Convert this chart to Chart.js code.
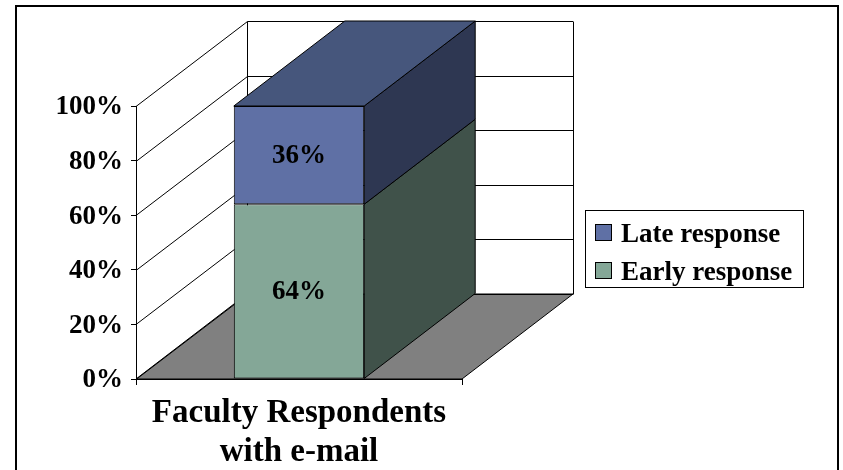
<!DOCTYPE html>
<html>
<head>
<meta charset="utf-8">
<script src="https://cdn.jsdelivr.net/npm/chart.js@4/dist/chart.umd.min.js"></script>
<style>
  html, body { margin: 0; padding: 0; background: #ffffff; }
  canvas { display: block; }
</style>
</head>
<body>
<canvas id="chart" width="843" height="470"></canvas>
<script>
// Data
const categories = [['Faculty Respondents', 'with e-mail']];
const seriesNames = ['Early response', 'Late response'];
const earlyValues = [64];
const lateValues = [36];
const yTickValues = [0, 20, 40, 60, 80, 100];

// Styling
const FONT = 'Liberation Serif';
const DEPTH_X = 111;   // horizontal receding offset of the 3D box
const DEPTH_Y = -85;   // vertical receding offset of the 3D box
const faceColors = [
  { front: '#84a797', side: '#40524a', top: '#5a7266' },
  { front: '#5f70a5', side: '#2e3752', top: '#46567c' }
];
const crisp = v => Math.round(v) + 0.5;

// Draws the frame, back wall, side wall and floor behind the chart
const backdrop3d = {
  id: 'backdrop3d',
  beforeDraw(chart) {
    const ctx = chart.ctx;
    const area = chart.chartArea;
    const y = chart.scales.y;
    ctx.save();

    // outer frame
    ctx.strokeStyle = '#000';
    ctx.lineWidth = 2;
    ctx.strokeRect(16, 6, 822, 520);

    const left = area.left, right = area.right;
    const bx0 = left + DEPTH_X, bx1 = right + DEPTH_X;
    const bottom = y.getPixelForValue(0);

    // floor
    ctx.beginPath();
    ctx.moveTo(left, bottom);
    ctx.lineTo(bx0, bottom + DEPTH_Y);
    ctx.lineTo(bx1, bottom + DEPTH_Y);
    ctx.lineTo(right, bottom);
    ctx.closePath();
    ctx.fillStyle = '#808080';
    ctx.fill();
    ctx.lineWidth = 1;
    ctx.strokeStyle = '#000';
    ctx.stroke();

    // gridlines on side and back walls
    ctx.beginPath();
    yTickValues.forEach(v => {
      const py = y.getPixelForValue(v);
      ctx.moveTo(left, crisp(py));
      ctx.lineTo(crisp(bx0), crisp(py + DEPTH_Y));
      ctx.lineTo(bx1, crisp(py + DEPTH_Y));
    });
    const topY = y.getPixelForValue(100) + DEPTH_Y;
    const botY = bottom + DEPTH_Y;
    ctx.moveTo(crisp(bx0), crisp(topY));
    ctx.lineTo(crisp(bx0), crisp(botY));
    ctx.moveTo(crisp(bx1), crisp(topY));
    ctx.lineTo(crisp(bx1), crisp(botY));
    ctx.stroke();
    ctx.restore();
  },

  // side and top faces of the stacked box, value labels
  afterDatasetsDraw(chart) {
    const ctx = chart.ctx;
    const n = chart.data.datasets.length;
    ctx.save();
    ctx.lineWidth = 1;
    ctx.strokeStyle = '#000';
    chart.data.datasets.forEach((ds, di) => {
      const meta = chart.getDatasetMeta(di);
      meta.data.forEach((bar, i) => {
        const p = bar.getProps(['x', 'y', 'base', 'width'], true);
        const l = p.x - p.width / 2, r = p.x + p.width / 2;
        const t = Math.min(p.y, p.base), b = Math.max(p.y, p.base);
        const c = faceColors[di];

        ctx.beginPath();
        ctx.moveTo(r, t);
        ctx.lineTo(r + DEPTH_X, t + DEPTH_Y);
        ctx.lineTo(r + DEPTH_X, b + DEPTH_Y);
        ctx.lineTo(r, b);
        ctx.closePath();
        ctx.fillStyle = c.side;
        ctx.fill();
        ctx.stroke();

        if (di === n - 1) {
          ctx.beginPath();
          ctx.moveTo(l, t);
          ctx.lineTo(l + DEPTH_X, t + DEPTH_Y);
          ctx.lineTo(r + DEPTH_X, t + DEPTH_Y);
          ctx.lineTo(r, t);
          ctx.closePath();
          ctx.fillStyle = c.top;
          ctx.fill();
          ctx.stroke();
        }

        ctx.fillStyle = '#000';
        ctx.font = 'bold 27px "' + FONT + '"';
        ctx.textAlign = 'center';
        ctx.textBaseline = 'middle';
        ctx.fillText(ds.data[i] + '%', p.x, (t + b) / 2 + 1);
      });
    });
    ctx.restore();
  },

  // boxed legend on the right, listed top series first
  afterDraw(chart) {
    const ctx = chart.ctx;
    ctx.save();
    ctx.lineWidth = 1;
    ctx.strokeStyle = '#000';
    ctx.strokeRect(585.5, 210.5, 218, 77);
    ctx.font = 'bold 27px "' + FONT + '"';
    ctx.textAlign = 'left';
    ctx.textBaseline = 'alphabetic';
    const order = chart.data.datasets.map((d, i) => i).reverse();
    order.forEach((di, k) => {
      const ds = chart.data.datasets[di];
      const sy = 224 + k * 38;
      ctx.fillStyle = ds.backgroundColor;
      ctx.fillRect(595, sy, 16, 16);
      ctx.strokeRect(595.5, sy + 0.5, 16, 16);
      ctx.fillStyle = '#000';
      ctx.fillText(ds.label, 621, 242 + k * 38);
    });
    ctx.restore();
  }
};

new Chart(document.getElementById('chart'), {
  type: 'bar',
  data: {
    labels: categories,
    datasets: [
      {
        label: seriesNames[0],
        data: earlyValues,
        backgroundColor: faceColors[0].front,
        borderColor: '#000',
        borderWidth: 1,
        borderSkipped: false,
        categoryPercentage: 1,
        barPercentage: 0.4
      },
      {
        label: seriesNames[1],
        data: lateValues,
        backgroundColor: faceColors[1].front,
        borderColor: '#000',
        borderWidth: 1,
        borderSkipped: false,
        categoryPercentage: 1,
        barPercentage: 0.4
      }
    ]
  },
  options: {
    responsive: false,
    animation: false,
    layout: { padding: { left: 16, top: 106, right: 381, bottom: 0 } },
    plugins: {
      legend: { display: false },
      tooltip: { enabled: false }
    },
    scales: {
      x: {
        stacked: true,
        offset: true,
        grid: {
          display: true,
          drawOnChartArea: false,
          drawTicks: true,
          tickLength: 6,
          offset: true,
          color: '#000'
        },
        border: { display: true, color: '#000', width: 1 },
        ticks: {
          color: '#000',
          padding: 9,
          maxRotation: 0,
          autoSkip: false,
          font: { family: FONT, size: 33, weight: 'bold', lineHeight: 1.18 }
        },
        afterFit(scale) { scale.height = 91; }
      },
      y: {
        stacked: true,
        min: 0,
        max: 100,
        grid: {
          display: true,
          drawOnChartArea: false,
          drawTicks: true,
          tickLength: 5,
          color: '#000'
        },
        border: { display: true, color: '#000', width: 1 },
        ticks: {
          stepSize: 20,
          color: '#000',
          padding: 8,
          labelOffset: 1.5,
          font: { family: FONT, size: 27, weight: 'bold' },
          callback: v => v + '%'
        },
        afterFit(scale) { scale.width = 120; }
      }
    }
  },
  plugins: [backdrop3d]
});
</script>
</body>
</html>
